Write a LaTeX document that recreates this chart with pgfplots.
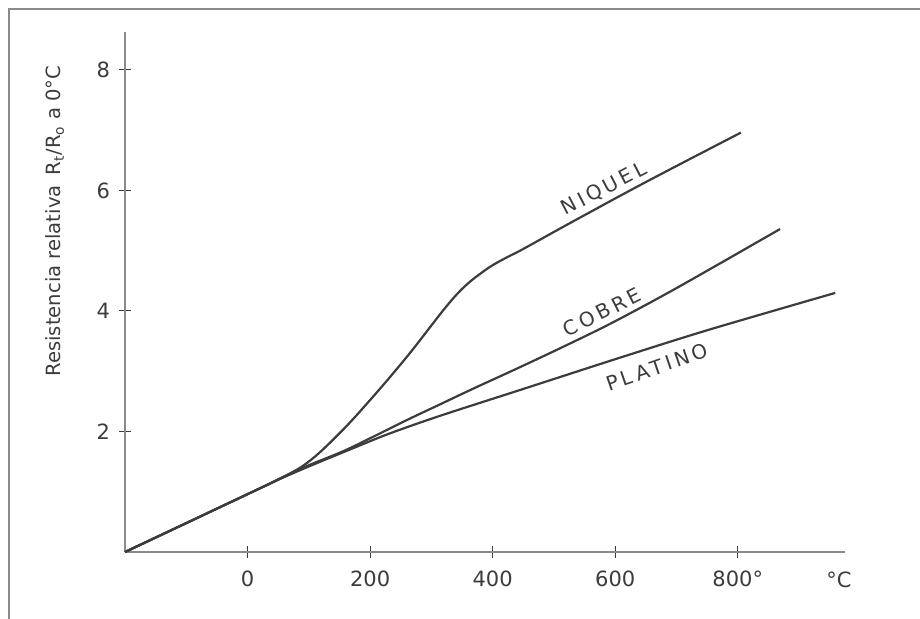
\documentclass[border=0pt]{standalone}
\usepackage{fontspec}
\setmainfont{DejaVu Sans}
\usepackage{pgfplots}
\pgfplotsset{compat=1.18}
\definecolor{ink}{HTML}{3C3C3C}
\definecolor{axisgray}{HTML}{8A8A8A}
\begin{document}
\begin{tikzpicture}
\useasboundingbox (0,0) rectangle (460pt,-309pt);
\fill[white] (0,0) rectangle (460pt,-309pt);
\begin{axis}[
  at={(62.5pt,-276pt)}, anchor=south west,
  scale only axis, width=360pt, height=260pt,
  xmin=-200, xmax=975, ymin=0, ymax=8.63,
  axis x line=bottom, axis y line=left,
  axis line style={-, axisgray, line width=0.7pt},
  xtick={0,200,400,600,800}, xticklabels={0,200,400,600,800°},
  ytick={2,4,6,8}, yticklabels={2,4,6,8},
  tick align=center, major tick length=6pt,
  tick style={ink, line width=0.5pt},
  tick label style={font=\fontsize{10.5}{12}\selectfont, text=ink},
  xticklabel style={yshift=-3pt},
  yticklabel style={xshift=-1pt},
  clip=false,
]
\addplot[ink, line width=1.1pt, smooth, tension=0.6] coordinates {
 (-200,0) (0,0.96) (41,1.16) (96,1.47) (151,1.98) (205,2.58) (260,3.24)
 (300,3.76) (320,4.02) (340,4.26) (360,4.46) (380,4.62) (400,4.76)
 (425,4.90) (450,5.03) (530,5.48) (650,6.14) (805,6.96)};
\addplot[ink, line width=1.1pt, smooth, tension=0.5] coordinates {
 (-200,0) (0,0.96) (50,1.2) (100,1.44) (162,1.70) (260,2.19) (314,2.45)
 (368,2.71) (445,3.07) (520,3.43) (596,3.81) (700,4.38) (869,5.36)};
\addplot[ink, line width=1.1pt, smooth, tension=0.5] coordinates {
 (-200,0) (0,0.96) (50,1.2) (100,1.42) (162,1.68) (230,1.96) (314,2.26)
 (445,2.69) (600,3.20) (750,3.68) (959,4.30)};
\end{axis}
\begin{scope}[x=0.5pt,y=-0.5pt]
\draw[axisgray, line width=1pt] (9,620) -- (9,8.5) -- (922,8.5);
\node[rotate=90, text=ink, font=\fontsize{9.8}{11}\selectfont] at (55,221)
  {Resistencia relativa\enspace R\textsubscript{t}/R\textsubscript{o} a 0°C};
\node[text=ink, font=\fontsize{10.5}{12}\selectfont] at (839,580) {°C};
\node[rotate=27.5, text=ink, font=\fontsize{10}{11}\selectfont\addfontfeature{LetterSpace=18}] at (604,189) {NIQUEL};
\node[rotate=27, text=ink, font=\fontsize{10}{11}\selectfont\addfontfeature{LetterSpace=18}] at (602,312) {COBRE};
\node[rotate=19, text=ink, font=\fontsize{10}{11}\selectfont\addfontfeature{LetterSpace=18}] at (657,367) {PLATINO};
\end{scope}
\end{tikzpicture}
\end{document}
